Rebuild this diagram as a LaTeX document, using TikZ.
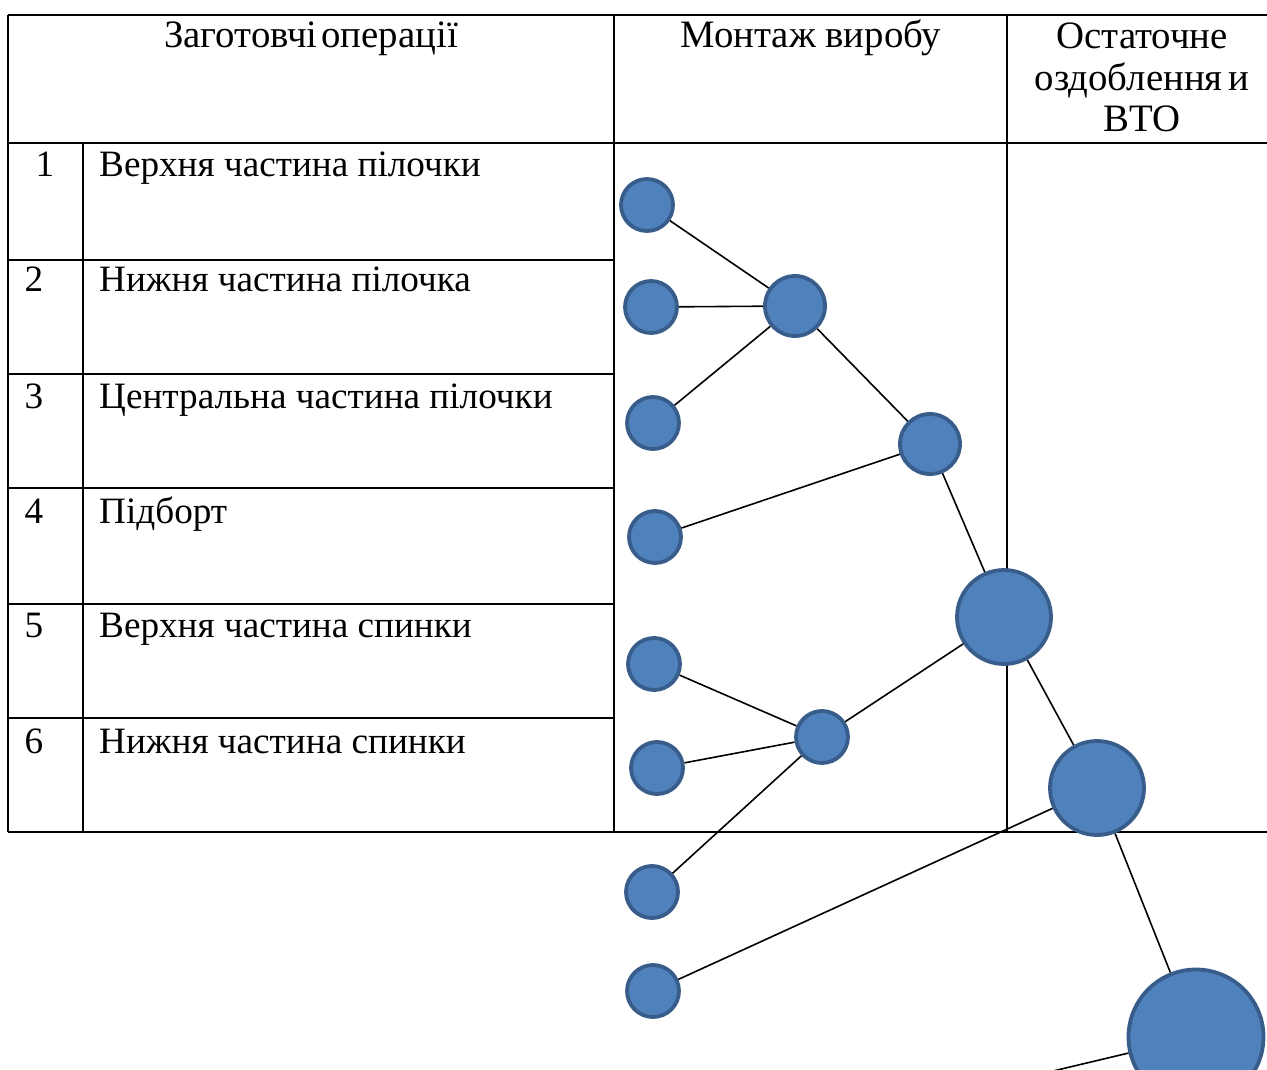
\documentclass[tikz,border=0pt]{standalone}
\usepackage{fontspec}
\setmainfont{Liberation Serif}
\begin{document}
\begin{tikzpicture}[x=1pt,y=-1pt,
  grid/.style={line width=1.8pt,black},
  link/.style={line width=1.6pt,black},
  dot/.style={circle,fill={rgb,255:red,79;green,129;blue,189},draw={rgb,255:red,56;green,93;blue,138},line width=3.8pt,inner sep=0pt},
  txt/.style={inner sep=0pt,font=\fontsize{37.2}{44}\selectfont},
  head/.style={inner sep=0pt,font=\fontsize{38.8}{44}\selectfont}]
\useasboundingbox (0,0) rectangle (1267,1070);
% table
\draw[grid] (8,15) -- (1267,15);
\draw[grid] (8,143) -- (1267,143);
\foreach \yy in {260,374,488,604,718} \draw[grid] (8,\yy) -- (614,\yy);
\draw[grid] (8,832) -- (1267,832);
\draw[grid] (8,15) -- (8,832);
\draw[grid] (83,143) -- (83,832);
\draw[grid] (614,15) -- (614,832);
\draw[grid] (1007,15) -- (1007,832);
% headers
\node[head,anchor=base] (h1) at (311,48) {Заготовчі\hspace{0.1em}операції};
\node[head,anchor=base] (h2) at (811,48) {Монтаж виробу};
\node[head,anchor=base] (h3) at (1142,49) {Остаточне};
\node[head,anchor=base] (h3b) at (1142,91) {оздоблення\hspace{0.15em}и};
\node[head,anchor=base] (h3c) at (1142,132) {ВТО};
% rows
\node[txt,anchor=base] (n1) at (45,177) {1};
\node[txt,anchor=base] (n2) at (34,291) {2};
\node[txt,anchor=base] (n3) at (34,408) {3};
\node[txt,anchor=base] (n4) at (34,523) {4};
\node[txt,anchor=base] (n5) at (34,637) {5};
\node[txt,anchor=base] (n6) at (34,753) {6};
\node[txt,anchor=base west] (t1) at (99,177) {Верхня частина пілочки};
\node[txt,anchor=base west] (t2) at (99,291) {Нижня частина пілочка};
\node[txt,anchor=base west] (t3) at (99,408) {Центральна частина пілочки};
\node[txt,anchor=base west] (t4) at (99,523) {Підборт};
\node[txt,anchor=base west] (t5) at (99,637) {Верхня частина спинки};
\node[txt,anchor=base west] (t6) at (99,753) {Нижня частина спинки};
% circles
\node[dot,minimum size=52pt] (c1) at (647,205) {};
\node[dot,minimum size=52pt] (c2) at (651,307) {};
\node[dot,minimum size=52pt] (c3) at (653,423) {};
\node[dot,minimum size=52pt] (c4) at (655,537) {};
\node[dot,minimum size=52pt] (c5) at (654,664) {};
\node[dot,minimum size=52pt] (c6) at (657,768) {};
\node[dot,minimum size=52pt] (c7) at (652,892) {};
\node[dot,minimum size=52pt] (c8) at (653,991) {};
\node[dot,minimum size=60pt] (m1) at (795,306) {};
\node[dot,minimum size=60pt] (m2) at (930,444) {};
\node[dot,minimum size=52pt] (m3) at (822,737) {};
\node[dot,minimum size=94pt] (b1) at (1004,617) {};
\node[dot,minimum size=94pt] (b2) at (1097,788) {};
\node[dot,minimum size=135pt] (b3) at (1196,1037) {};
\coordinate (out) at (969,1091);
% connectors
\draw[link] (c1) -- (m1);
\draw[link] (c2) -- (m1);
\draw[link] (c3) -- (m1);
\draw[link] (m1) -- (m2);
\draw[link] (c4) -- (m2);
\draw[link] (m2) -- (b1);
\draw[link] (c5) -- (m3);
\draw[link] (c6) -- (m3);
\draw[link] (c7) -- (m3);
\draw[link] (m3) -- (b1);
\draw[link] (b1) -- (b2);
\draw[link] (c8) -- (b2);
\draw[link] (b2) -- (b3);
\draw[link] (b3) -- (out);
\end{tikzpicture}
\end{document}
